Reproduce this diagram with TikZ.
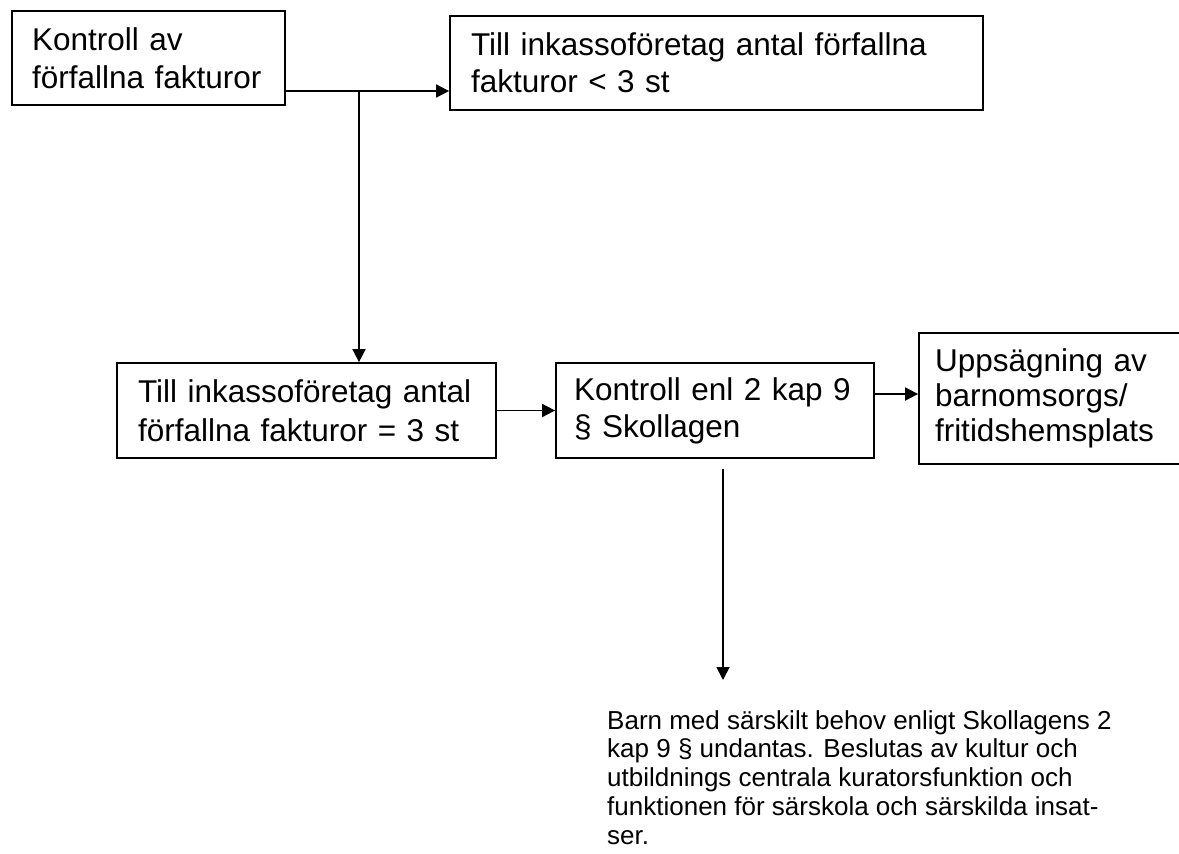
\documentclass[tikz,border=0pt]{standalone}
\usepackage{fontspec}
\setmainfont{Liberation Sans}
\usetikzlibrary{arrows.meta,calc}
\begin{document}
\begin{tikzpicture}[x=1pt,y=-1pt,
  box/.style={draw,line width=1.8pt,rectangle,align=left,inner xsep=20pt,inner ysep=0pt,
    font=\fontsize{31.5pt}{37pt}\selectfont},
  note/.style={align=left,inner sep=0pt,font=\fontsize{26pt}{28.8pt}\selectfont},
  arr/.style={line width=1.8pt,-{Triangle[length=13pt,width=13pt]}}]
\useasboundingbox (0,0) rectangle (1179,854);
\clip (0,0) rectangle (1179,854);
\node[box,minimum width=273pt,minimum height=94pt,text width=233pt,inner xsep=20pt,
  font=\fontsize{31.5pt}{38.5pt}\selectfont] (A) at (148.5,58) {Kontroll av\\förfallna fakturor};
\node[box,minimum width=533pt,minimum height=94pt,text width=491pt,inner xsep=21pt] (B) at (716.5,63) {Till inkassoföretag antal förfallna\\fakturor < 3 st};
\node[box,minimum width=379pt,minimum height=95pt,text width=337pt,inner xsep=21pt,
  font=\fontsize{31.5pt}{38.5pt}\selectfont] (C) at (306.5,410.5) {Till inkassoföretag antal\\förfallna fakturor = 3 st};
\node[box,minimum width=318pt,minimum height=95pt,text width=282pt,inner xsep=18pt] (D) at (715,410.5) {Kontroll enl 2 kap 9\\§ Skollagen};
\node[box,minimum width=281pt,minimum height=131pt,text width=249pt,inner xsep=16pt,
  font=\fontsize{31.5pt}{35pt}\selectfont] (E) at (1059.5,398.5) {Uppsägning av\\barnomsorgs/\\fritidshemsplats};
\node[note,anchor=north west] (F) at (607,710) {Barn med särskilt behov enligt Skollagens 2\\kap 9 § undantas. Beslutas av kultur och\\utbildnings centrala kuratorsfunktion och\\funktionen för särskola och särskilda insat-\\ser.};
\coordinate (j) at (359,91);
\coordinate (s) at (723,469);
\coordinate (t) at (723,680);
\draw[arr] (A.east |- j) -- (B.west |- j);
\draw[arr] (j) -- (j |- C.north);
\draw[arr] (C.east) -- (D.west);
\draw[arr] ($(D.east)+(0,-16.5)$) -- ($(E.west |- D.east)+(0,-16.5)$);
\draw[arr] (s) -- (t);
\end{tikzpicture}
\end{document}
